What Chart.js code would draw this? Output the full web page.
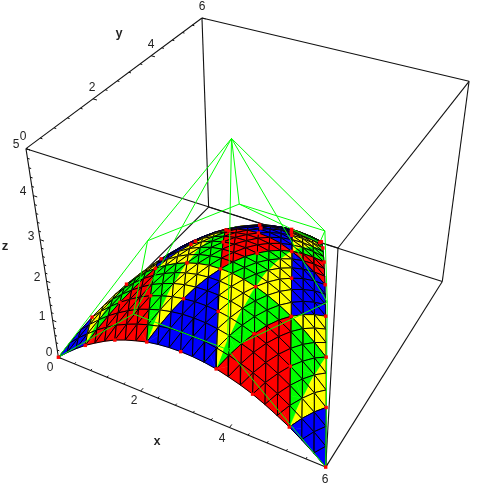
<!DOCTYPE html>
<html>
<head>
<meta charset="utf-8">
<title>Bezier patch</title>
<script src="https://cdn.jsdelivr.net/npm/chart.js@4/dist/chart.umd.js"></script>
<style>html,body{margin:0;padding:0;background:#fff}canvas{display:block}</style>
</head>
<body>
<canvas id="chart" width="485" height="485"></canvas>
<script>
const xTicks = [0, 2, 4, 6];
const yTicks = [0, 2, 4, 6];
const zTicks = [0, 1, 2, 3, 4, 5];
const xMinor = [0.4, 0.8, 1.2, 1.6, 2.4, 2.8, 3.2, 3.6, 4.4, 4.8, 5.2, 5.6];
const yMinor = [0.4, 0.8, 1.2, 1.6, 2.4, 2.8, 3.2, 3.6, 4.4, 4.8, 5.2, 5.6];
const zMinor = [0.2, 0.4, 0.6, 0.8, 1.2, 1.4, 1.6, 1.8, 2.2, 2.4, 2.6, 2.8, 3.2, 3.4, 3.6, 3.8, 4.2, 4.4, 4.6, 4.8];

// control net, read from the green wireframe
const netX = [0, 2, 4, 6, 1, 3, 5, 2, 4, 3];
const netY = [0, 0, 0, 0, 2, 2, 2, 4, 4, 6];
const netZ = [0, 2, 2, 0, 2, 5, 2, 2, 2, 0];
const netEdges = [[0,1],[1,2],[2,3],[4,5],[5,6],[7,8],[0,4],[4,7],[7,9],[1,5],[5,8],[2,6],[1,4],[2,5],[3,6],[5,7],[6,8],[8,9]];

// surface heights; one row per step from the x edge to the far corner
const heights = [
  [0,.24,.46,.66,.83,.99,1.13,1.24,1.33,1.41,1.46,1.49,1.5,1.49,1.46,1.41,1.33,1.24,1.13,.99,.83,.66,.46,.24,0],
  [.24,.49,.71,.92,1.10,1.26,1.39,1.50,1.59,1.66,1.71,1.73,1.73,1.71,1.66,1.59,1.50,1.39,1.26,1.10,.92,.71,.49,.24],
  [.46,.71,.94,1.15,1.33,1.49,1.63,1.73,1.82,1.88,1.92,1.93,1.92,1.88,1.82,1.73,1.63,1.49,1.33,1.15,.94,.71,.46],
  [.66,.92,1.15,1.36,1.54,1.70,1.83,1.93,2.01,2.06,2.09,2.09,2.06,2.01,1.93,1.83,1.70,1.54,1.36,1.15,.92,.66],
  [.83,1.10,1.33,1.54,1.72,1.88,2.00,2.10,2.17,2.21,2.22,2.21,2.17,2.10,2.00,1.88,1.72,1.54,1.33,1.10,.83],
  [.99,1.26,1.49,1.70,1.88,2.02,2.14,2.23,2.29,2.32,2.32,2.29,2.23,2.14,2.02,1.88,1.70,1.49,1.26,.99],
  [1.13,1.39,1.63,1.83,2.00,2.14,2.25,2.33,2.38,2.39,2.38,2.33,2.25,2.14,2.00,1.83,1.63,1.39,1.13],
  [1.24,1.50,1.73,1.93,2.10,2.23,2.33,2.39,2.43,2.43,2.39,2.33,2.23,2.10,1.93,1.73,1.50,1.24],
  [1.33,1.59,1.82,2.01,2.17,2.29,2.38,2.43,2.44,2.43,2.38,2.29,2.17,2.01,1.82,1.59,1.33],
  [1.41,1.66,1.88,2.06,2.21,2.32,2.39,2.43,2.43,2.39,2.32,2.21,2.06,1.88,1.66,1.41],
  [1.46,1.71,1.92,2.09,2.22,2.32,2.38,2.39,2.38,2.32,2.22,2.09,1.92,1.71,1.46],
  [1.49,1.73,1.93,2.09,2.21,2.29,2.33,2.33,2.29,2.21,2.09,1.93,1.73,1.49],
  [1.50,1.73,1.92,2.06,2.17,2.23,2.25,2.23,2.17,2.06,1.92,1.73,1.50],
  [1.49,1.71,1.88,2.01,2.10,2.14,2.14,2.10,2.01,1.88,1.71,1.49],
  [1.46,1.66,1.82,1.93,2.00,2.02,2.00,1.93,1.82,1.66,1.46],
  [1.41,1.59,1.73,1.83,1.88,1.88,1.83,1.73,1.59,1.41],
  [1.33,1.50,1.63,1.70,1.72,1.70,1.63,1.50,1.33],
  [1.24,1.39,1.49,1.54,1.54,1.49,1.39,1.24],
  [1.13,1.26,1.33,1.36,1.33,1.26,1.13],
  [.99,1.10,1.15,1.15,1.10,.99],
  [.83,.92,.94,.92,.83],
  [.66,.71,.71,.66],
  [.46,.49,.46],
  [.24,.24],
  [0]
];

// box corners and where they land in the picture
const corners3d = [[0,0,0],[6,0,0],[6,6,0],[0,6,0],[0,0,5],[6,0,5],[6,6,5],[0,6,5]];
const cornersU = [58, 326, 442, 209, 26, 338, 469, 202];
const cornersV = [357, 467, 282, 207, 149, 248, 81, 18];

const colorGrid = [['#0000ff', '#ffff00'], ['#ff0000', '#00ff00']];
const N = heights.length - 1;
const majorTick = 0.09, minorTick = 0.05;

function solveProjection() {
  let weight = corners3d.map(() => 1), sol;
  for (let it = 0; it < 6; it++) {
    const rows = [], rhs = [];
    corners3d.forEach((c, n) => {
      const X = c[0]/6, Y = c[1]/6, Z = c[2]/5, u = cornersU[n]/485, v = cornersV[n]/485, g = 1/weight[n];
      rows.push([X, Y, Z, 1, 0, 0, 0, 0, -u*X, -u*Y, -u*Z].map(t => t*g)); rhs.push(u*g);
      rows.push([0, 0, 0, 0, X, Y, Z, 1, -v*X, -v*Y, -v*Z].map(t => t*g)); rhs.push(v*g);
    });
    const m = [];
    for (let a = 0; a < 11; a++) {
      m[a] = [];
      for (let b = 0; b < 11; b++) m[a][b] = rows.reduce((s, r) => s + r[a]*r[b], 0);
      m[a][11] = rows.reduce((s, r, n) => s + r[a]*rhs[n], 0);
    }
    for (let a = 0; a < 11; a++) {
      let best = a;
      for (let b = a + 1; b < 11; b++) if (Math.abs(m[b][a]) > Math.abs(m[best][a])) best = b;
      [m[a], m[best]] = [m[best], m[a]];
      for (let b = 0; b < 11; b++) {
        if (b === a) continue;
        const f = m[b][a] / m[a][a];
        for (let c = a; c < 12; c++) m[b][c] -= f * m[a][c];
      }
    }
    sol = m.map((r, a) => r[11] / r[a]);
    weight = corners3d.map(c => sol[8]*c[0]/6 + sol[9]*c[1]/6 + sol[10]*c[2]/5 + 1);
  }
  return sol;
}
const p = solveProjection();

function project(x, y, z) {
  const X = x/6, Y = y/6, Z = z/5;
  const w = p[8]*X + p[9]*Y + p[10]*Z + 1;
  return { x: 485*(p[0]*X + p[1]*Y + p[2]*Z + p[3]) / w, y: 485*(p[4]*X + p[5]*Y + p[6]*Z + p[7]) / w, w };
}
function domain(v) { return [6*v[0]/N + 3*v[1]/N, 6*v[1]/N]; }
function vertex(v) {
  const d = domain(v);
  return project(d[0], d[1], heights[v[1]][v[0]]);
}
// the patch is coloured in bands of width 1.5 along x, y and the two slanted directions
function bandColor(x, y) {
  const band = t => Math.floor((t + 0.75) / 1.5);
  const a = (band(x) + Math.floor(y / 1.5)) % 2;
  const b = (band(x - y/2) + band(x + y/2)) % 2;
  return colorGrid[a][b];
}
function fillOf(cell, pts) {
  const d = cell.map(domain);
  return { pts, color: bandColor((d[0][0]+d[1][0]+d[2][0])/3, (d[0][1]+d[1][1]+d[2][1])/3) };
}
function cellFills(cell, pts) {
  // cells cut by a vertical x band are painted in two halves
  const on = cell.findIndex(v => (2*v[0] + v[1]) % 12 === 6);
  if (on < 0) return [fillOf(cell, pts)];
  const s = (on + 1) % 3, t = (on + 2) % 3;
  const mid = { x: (pts[s].x + pts[t].x)/2, y: (pts[s].y + pts[t].y)/2 };
  const dm = [(cell[s][0] + cell[t][0])/2, (cell[s][1] + cell[t][1])/2];
  return [
    fillOf([cell[on], cell[s], dm], [pts[on], pts[s], mid]),
    fillOf([cell[on], dm, cell[t]], [pts[on], mid, pts[t]])
  ];
}
function lineSet(points, color, width) {
  return { data: points, showLine: true, pointRadius: 0, borderColor: color, borderWidth: width, tension: 0, fill: false };
}
function edge(a, b) { return [project(a[0], a[1], a[2]), project(b[0], b[1], b[2])]; }

const cells = [];
for (let j = 0; j < N; j++) {
  for (let i = 0; i < N - j; i++) {
    cells.push([[i,j],[i+1,j],[i,j+1]]);
    if (i + j < N - 1) cells.push([[i+1,j],[i+1,j+1],[i,j+1]]);
  }
}
// nearest first: Chart.js paints the first dataset last
const surface = cells.map(cell => {
  const pts = cell.map(vertex);
  return { pts, depth: pts[0].w + pts[1].w + pts[2].w, fills: cellFills(cell, pts) };
}).sort((a, b) => a.depth - b.depth);

const datasets = [];
const knots = [];
for (let j = 0; j <= N; j += 3) for (let i = 0; i <= N - j; i += 3) knots.push(vertex([i, j]));
datasets.push({ data: knots, showLine: false, pointStyle: 'rect', pointRadius: 2.4, backgroundColor: '#ff0000', borderWidth: 0 });

netEdges.forEach(e => {
  datasets.push(lineSet(e.map(n => project(netX[n], netY[n], netZ[n])), '#00ff00', 1));
});

[[0,1],[1,5],[5,6],[5,4],[4,0],[4,7],[7,6],[6,2],[1,2]].forEach(e => {
  datasets.push(lineSet(edge(corners3d[e[0]], corners3d[e[1]]), '#111', 1.1));
});
xTicks.concat(xMinor).forEach(t => datasets.push(lineSet(edge([t,0,0], [t, xTicks.includes(t) ? majorTick : minorTick, 0]), '#111', 1)));
yTicks.concat(yMinor).forEach(t => datasets.push(lineSet(edge([0,t,5], [yTicks.includes(t) ? majorTick : minorTick, t, 5]), '#111', 1)));
zTicks.concat(zMinor).forEach(t => datasets.push(lineSet(edge([0,0,t], [zTicks.includes(t) ? majorTick : minorTick, 0, t]), '#111', 1)));

surface.forEach(c => {
  const ds = lineSet([c.pts[0], c.pts[1], c.pts[2], c.pts[0]], '#000', 1);
  ds.cellFills = c.fills;
  datasets.push(ds);
});

[[0,3],[3,2],[3,7]].forEach(e => {
  datasets.push(lineSet(edge(corners3d[e[0]], corners3d[e[1]]), '#111', 1.1));
});

const tickText = [
  ['0',50,368],['2',134,401],['4',222,439],['6',325,480],
  ['0',23,137],['2',92,88],['4',151,45],['6',202,7],
  ['0',49,353],['1',42,317],['2',37,278],['3',31,237],['4',23,192],['5',16,145]
];
const axisNames = [['x',157,442],['y',119,34],['z',5,247]];

const cellFill = {
  id: 'cellFill',
  beforeDatasetDraw(chart, args) {
    const fills = chart.data.datasets[args.index].cellFills;
    if (!fills) return;
    const ctx = chart.ctx, sx = chart.scales.x, sy = chart.scales.y;
    ctx.save();
    ctx.lineWidth = 0.5;
    fills.forEach(f => {
      ctx.beginPath();
      f.pts.forEach(q => ctx.lineTo(sx.getPixelForValue(q.x), sy.getPixelForValue(q.y)));
      ctx.closePath();
      ctx.fillStyle = f.color;
      ctx.strokeStyle = f.color;
      ctx.fill();
      ctx.stroke();
    });
    ctx.restore();
  }
};
const textLabels = {
  id: 'textLabels',
  afterDraw(chart) {
    const ctx = chart.ctx, sx = chart.scales.x, sy = chart.scales.y;
    ctx.save();
    ctx.fillStyle = '#222';
    ctx.textAlign = 'center';
    ctx.textBaseline = 'middle';
    ctx.font = '12px "Liberation Sans"';
    tickText.forEach(l => ctx.fillText(l[0], sx.getPixelForValue(l[1]), sy.getPixelForValue(l[2])));
    ctx.font = 'bold 12px "Liberation Mono"';
    axisNames.forEach(l => ctx.fillText(l[0], sx.getPixelForValue(l[1]), sy.getPixelForValue(l[2])));
    ctx.restore();
  }
};

new Chart(document.getElementById('chart'), {
  type: 'scatter',
  data: { datasets },
  plugins: [cellFill, textLabels],
  options: {
    responsive: false,
    animation: false,
    layout: { padding: 0, autoPadding: false },
    plugins: { legend: { display: false }, tooltip: { enabled: false } },
    scales: {
      x: { type: 'linear', min: 0, max: 485, display: false },
      y: { type: 'linear', min: 0, max: 485, reverse: true, display: false }
    }
  }
});
</script>
</body>
</html>
